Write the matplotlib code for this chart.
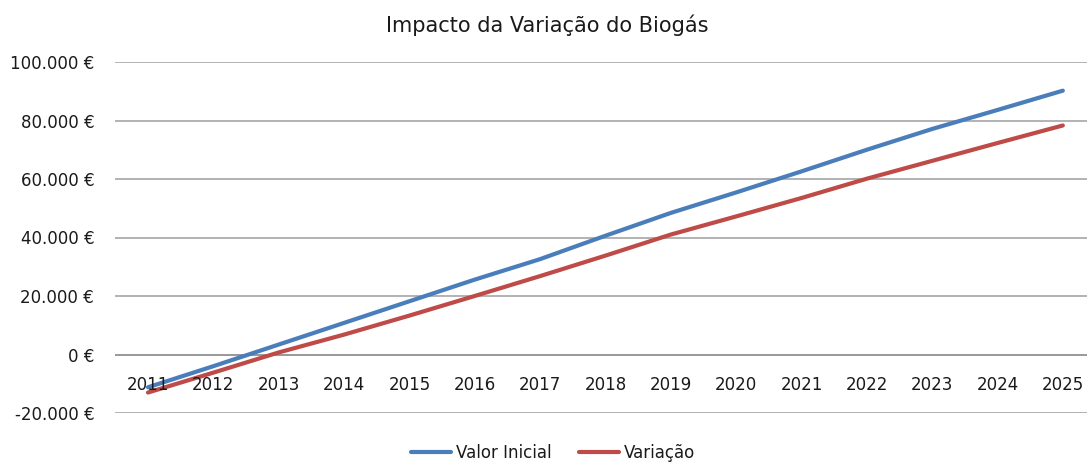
import matplotlib
matplotlib.use("Agg")
import matplotlib.pyplot as plt
from matplotlib.ticker import FuncFormatter

years = [str(y) for y in range(2011, 2026)]
valor_inicial = [-11200, -4000, 3400, 10800, 18200, 25600, 32600, 40600,
                 48400, 55400, 62600, 70000, 77100, 83600, 90200]
variacao = [-13000, -6200, 700, 6800, 13300, 20000, 26800, 33800,
            41000, 47200, 53500, 60100, 66200, 72300, 78300]
y_ticks = [-20000, 0, 20000, 40000, 60000, 80000, 100000]

plt.rcParams['font.family'] = ['DejaVu Sans']

W, H = 1087, 463
fig = plt.figure(figsize=(W / 100, H / 100), dpi=100)
ax = fig.add_axes([115 / W, (H - 413) / H, (1087 - 115) / W, 351 / H])

x = list(range(len(years)))
ax.plot(x, valor_inicial, color='#4a7ebb', lw=3.0, label='Valor Inicial',
        solid_capstyle='round', solid_joinstyle='round')
ax.plot(x, variacao, color='#be4b48', lw=3.0, label='Variação',
        solid_capstyle='round', solid_joinstyle='round')

ax.set_xlim(-0.505, 14.37)
ax.set_ylim(-20000, 100000)
ax.set_yticks(y_ticks)

def fmt(v, pos):
    s = f"{int(v):,}".replace(",", ".")
    return f"{s} €"

ax.yaxis.set_major_formatter(FuncFormatter(fmt))
ax.tick_params(axis='y', length=0, labelsize=12, pad=15, labelcolor='#1a1a1a')
ax.set_xticks([])
for sp in ax.spines.values():
    sp.set_visible(False)
for t in y_ticks:
    ax.axhline(t, color='#868686' if t == 0 else '#a6a6a6', lw=1.2, zorder=0)

for i, lab in enumerate(years):
    ax.annotate(lab, xy=(i, 0), xytext=(0, -31), textcoords='offset pixels',
                ha='center', va='center', fontsize=12, color='#1a1a1a')

fig.text(547 / W, 1 - 25 / H, 'Impacto da Variação do Biogás', fontsize=15,
         ha='center', va='center', color='#1a1a1a')

fig.legend(loc='center', bbox_to_anchor=(553 / W, 1 - 453 / H), ncol=2,
           frameon=False, fontsize=12, handlelength=2.4, columnspacing=1.6,
           handletextpad=0.3, labelcolor='#1a1a1a')

fig.savefig('out.png', dpi=100)
